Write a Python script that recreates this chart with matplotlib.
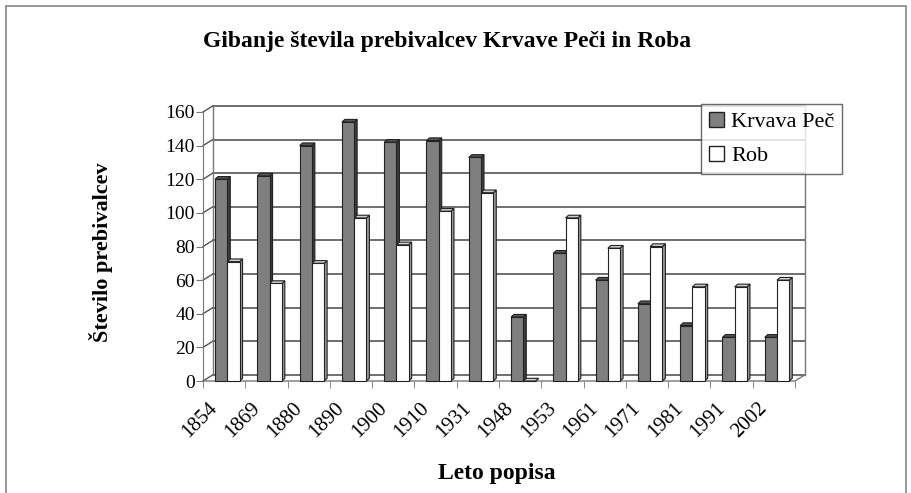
import numpy as np
import matplotlib
matplotlib.use("Agg")
import matplotlib.pyplot as plt
from matplotlib.patches import Rectangle, Polygon, Patch

# data
years = ["1854", "1869", "1880", "1890", "1900", "1910", "1931",
         "1948", "1953", "1961", "1971", "1981", "1991", "2002"]
krvava_pec = [120, 122, 140, 154, 142, 143, 133, 38, 76, 60, 46, 33, 26, 26]
rob = [71, 58, 70, 97, 81, 101, 112, 0, 97, 79, 80, 56, 56, 60]

plt.rcParams['font.family'] = ['Liberation Serif', 'DejaVu Serif']

fig = plt.figure(figsize=(9.12, 4.93), dpi=100)
ax = fig.add_axes([203/912, 1 - 381/493, (795 - 203)/912, (381 - 112)/493])

n = len(years)
x = np.arange(n)
w = 0.29
dx, dy = 0.07, 1.6      # fake 3D depth of the bars
wdx, wdy = 0.23, 3.6    # depth of the back wall

ax.set_xlim(-0.5, n - 0.5)
ax.set_ylim(0, 160)

# back wall gridlines + side wall
for v in range(0, 161, 20):
    ax.plot([-0.5 + wdx, n - 0.5 + wdx], [v + wdy, v + wdy], color='#555555',
            lw=1.2, clip_on=False, zorder=1)
    ax.plot([-0.5, -0.5 + wdx], [v, v + wdy], color='#555555', lw=1.0,
            clip_on=False, zorder=1)
ax.plot([-0.5 + wdx, -0.5 + wdx], [wdy, 160 + wdy], color='#777777', lw=1.0,
        clip_on=False, zorder=1)
ax.plot([n - 0.5 + wdx, n - 0.5 + wdx], [wdy, 160 + wdy], color='#777777', lw=1.0,
        clip_on=False, zorder=1)
# floor
ax.plot([-0.5, n - 0.5, n - 0.5 + wdx], [0, 0, wdy], color='#777777', lw=1.0,
        clip_on=False, zorder=1)


def bar3d(xc, h, front, side, top):
    x0, x1 = xc - w/2, xc + w/2
    ax.add_patch(Polygon([[x1, 0], [x1 + dx, dy], [x1 + dx, h + dy], [x1, h]],
                         closed=True, facecolor=side, edgecolor='#222222', lw=0.8,
                         zorder=3, clip_on=False))
    ax.add_patch(Polygon([[x0, h], [x0 + dx, h + dy], [x1 + dx, h + dy], [x1, h]],
                         closed=True, facecolor=top, edgecolor='#222222', lw=0.8,
                         zorder=3, clip_on=False))
    ax.add_patch(Rectangle((x0, 0), w, h, facecolor=front, edgecolor='#222222',
                           lw=0.8, zorder=4, clip_on=False))


for i in range(n):
    bar3d(x[i] - 0.07, krvava_pec[i], '#7f7f7f', '#3c3c3c', '#555555')
    bar3d(x[i] - 0.07 + w, rob[i], 'white', '#9a9a9a', '#d0d0d0')

for s in ['top', 'right', 'bottom']:
    ax.spines[s].set_visible(False)
ax.spines['left'].set_color('#777777')

ax.set_yticks(range(0, 161, 20))
ax.tick_params(axis='y', labelsize=14, length=5, color='#777777', pad=1)
ax.set_xticks(np.arange(-0.5, n, 1.0), minor=True)
ax.set_xticks(x - 0.38)
ax.set_xticklabels(years, rotation=45, ha='right', rotation_mode='anchor',
                   fontsize=15)
ax.tick_params(axis='x', which='major', length=0, pad=13)
ax.tick_params(axis='x', which='minor', length=5, color='#777777')

ax.set_ylabel('Število prebivalcev', fontsize=16, fontweight='bold')
ax.yaxis.set_label_coords(-0.152, 0.48)
fig.text(497/912, 1 - 473/493, 'Leto popisa', ha='center', va='center',
         fontsize=17, fontweight='bold')
fig.text(447/912, 1 - 41/493, 'Gibanje števila prebivalcev Krvave Peči in Roba',
         ha='center', va='center', fontsize=17, fontweight='bold')

handles = [Patch(facecolor='#7f7f7f', edgecolor='#222222', label='Krvava Peč'),
           Patch(facecolor='white', edgecolor='#222222', label='Rob')]
leg = fig.legend(handles=handles, loc='upper left',
                 bbox_to_anchor=(701/912, 1 - 104/493), fontsize=16,
                 frameon=True, fancybox=False, handlelength=0.7, handleheight=0.7,
                 handletextpad=0.3, borderpad=0.35, borderaxespad=0,
                 labelspacing=0.6)
leg.get_frame().set_edgecolor('#444444')
leg.get_frame().set_linewidth(1.0)

# outer frame of the chart
fig.patches.append(Rectangle((6/912, -0.1), 900/912, 1.1 - 6/493,
                             transform=fig.transFigure, fill=False,
                             edgecolor='#888888', lw=1.2))

fig.savefig('out.png', dpi=100)
